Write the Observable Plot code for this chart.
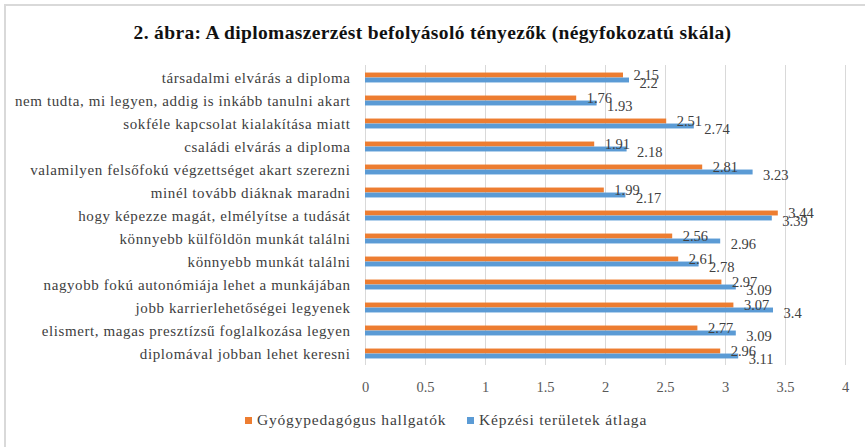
<!DOCTYPE html>
<html>
<head>
<meta charset="utf-8">
<script src="https://cdn.jsdelivr.net/npm/d3@7"></script>
<script src="https://cdn.jsdelivr.net/npm/@observablehq/plot@0.6"></script>
<style>
  html, body { margin: 0; padding: 0; background: #fff; overflow: hidden; width: 865px; height: 447px; }
  #frame { position: absolute; left: 4px; top: 4px; width: 900px; height: 480px; border-top: 2px solid #d9d9d9; border-left: 2px solid #d9d9d9; }
  #title { position: absolute; left: 0; top: 0; width: 865px; height: 66px; line-height: 66px; text-align: center;
           font-family: "Liberation Serif", serif; font-weight: bold; font-size: 19.5px; letter-spacing: 0.35px; color: #111; }
  #chart { position: absolute; left: 0; top: 50px; }
  #chart g[aria-label="y-axis tick label"] text { letter-spacing: 0.6px; }
  #legend { position: absolute; left: 0; top: 410px; width: 865px; height: 20px; font-family: "Liberation Serif", serif; font-size: 15.5px; letter-spacing: 0.8px; color: #404040; }
  .item { position: absolute; top: 0; height: 20px; line-height: 20px; white-space: nowrap; }
  .sw { display: inline-block; width: 7px; height: 7px; margin-right: 5px; vertical-align: 1px; }
</style>
</head>
<body>
<div id="frame"></div>
<div id="title">2. ábra: A diplomaszerzést befolyásoló tényezők (négyfokozatú skála)</div>
<div id="chart"></div>
<div id="legend"></div>
<script>
const categories = [
  "társadalmi elvárás a diploma",
  "nem tudta, mi legyen, addig is inkább tanulni akart",
  "sokféle kapcsolat kialakítása miatt",
  "családi elvárás a diploma",
  "valamilyen felsőfokú végzettséget akart szerezni",
  "minél tovább diáknak maradni",
  "hogy képezze magát, elmélyítse a tudását",
  "könnyebb külföldön munkát találni",
  "könnyebb munkát találni",
  "nagyobb fokú autonómiája lehet a munkájában",
  "jobb karrierlehetőségei legyenek",
  "elismert, magas presztízsű foglalkozása legyen",
  "diplomával jobban lehet keresni"
];
const gyogypedagogus = [2.15, 1.76, 2.51, 1.91, 2.81, 1.99, 3.44, 2.56, 2.61, 2.97, 3.07, 2.77, 2.96];
const kepzesiAtlag   = [2.2, 1.93, 2.74, 2.18, 3.23, 2.17, 3.39, 2.96, 2.78, 3.09, 3.4, 3.09, 3.11];
const seriesNames = ["Gyógypedagógus hallgatók", "Képzési területek átlaga"];
const seriesColors = ["#ED7D31", "#5B9BD5"];
const xTicks = [0, 0.5, 1, 1.5, 2, 2.5, 3, 3.5, 4];

const orange = categories.map((c, i) => ({category: c, value: gyogypedagogus[i]}));
const blue = categories.map((c, i) => ({category: c, value: kepzesiAtlag[i]}));

const width = 865, height = 350;
const marginTop = 15, marginBottom = 35, marginLeft = 365, marginRight = 20;
const bw = (height - marginTop - marginBottom) / categories.length;
const half = bw / 2;
const barH = 5;
const font = "Liberation Serif";

const plot = Plot.plot({
  width, height, marginTop, marginBottom, marginLeft, marginRight,
  style: {fontFamily: font, background: "transparent"},
  x: {domain: [0, 4], ticks: xTicks, label: null},
  y: {domain: categories, padding: 0, label: null},
  marks: [
    Plot.gridX(xTicks, {stroke: "#d9d9d9", strokeOpacity: 1, strokeWidth: 1}),
    Plot.barX(orange, {x: "value", y: "category", fill: seriesColors[0], insetTop: half - barH, insetBottom: half}),
    Plot.barX(blue, {x: "value", y: "category", fill: seriesColors[1], insetTop: half, insetBottom: half - barH}),
    Plot.text(orange, {x: "value", y: "category", text: d => String(d.value), dx: 10, dy: -3, textAnchor: "start", fontSize: 14.5, fill: "#404040"}),
    Plot.text(blue, {x: "value", y: "category", text: d => String(d.value), dx: 10, dy: 5, textAnchor: "start", fontSize: 14.5, fill: "#404040"}),
    Plot.axisX(xTicks, {tickSize: 0, tickPadding: 16, fontSize: 14.5, fill: "#595959", tickFormat: d => String(d), label: null}),
    Plot.axisY({tickSize: 0, tickPadding: 15, fontSize: 15, fill: "#404040", label: null})
  ]
});
document.getElementById("chart").appendChild(plot);

const legend = document.getElementById("legend");
const lx = [245, 467];
seriesNames.forEach((name, i) => {
  const item = document.createElement("div");
  item.className = "item";
  item.style.left = lx[i] + "px";
  item.innerHTML = `<span class="sw" style="background:${seriesColors[i]}"></span>${name}`;
  legend.appendChild(item);
});
</script>
</body>
</html>
